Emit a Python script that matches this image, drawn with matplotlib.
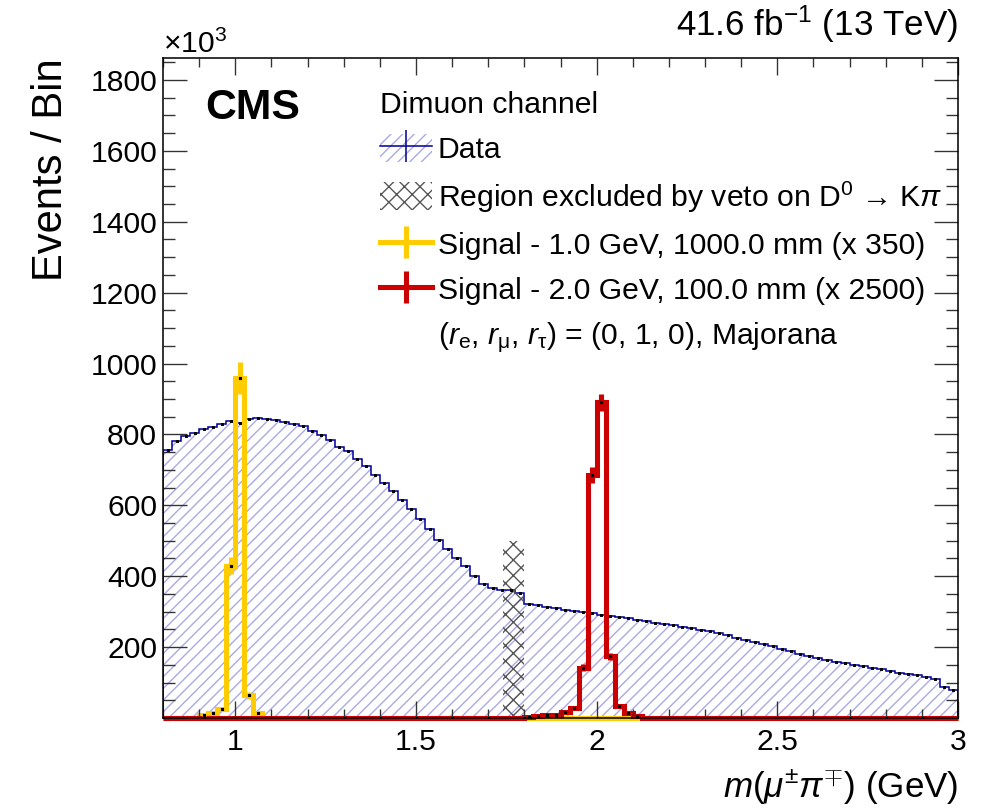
import numpy as np
import matplotlib
matplotlib.use('Agg')
import matplotlib.pyplot as plt
from matplotlib.patches import Patch
from matplotlib.lines import Line2D
from matplotlib.ticker import MultipleLocator, FuncFormatter

plt.rcParams['font.family'] = ['Liberation Sans', 'DejaVu Sans']
plt.rcParams['mathtext.fontset'] = 'custom'
plt.rcParams['mathtext.rm'] = 'Liberation Sans'
plt.rcParams['mathtext.it'] = 'Liberation Sans:italic'
plt.rcParams['mathtext.bf'] = 'Liberation Sans:bold'
plt.rcParams['hatch.linewidth'] = 0.7

# binning (GeV)
x_lo, x_hi, bin_w = 0.8, 3.0, 0.025

# data, x10^3 events per bin
data_vals = [
    757, 782, 795, 804, 814, 822, 830, 839,   # 0.800-0.975
    833, 844, 845, 844, 840, 836, 830, 823,   # 1.000-1.175
    811, 799, 783, 764, 752, 730, 710, 685,   # 1.200-1.375
    664, 641, 614, 590, 562, 533, 503, 478,   # 1.400-1.575
    452, 428, 400, 378, 366, 362, 360, 352,   # 1.600-1.775
    322, 318, 314, 310, 306, 302, 299, 295,   # 1.800-1.975
    291, 288, 285, 281, 277, 273, 269, 265,   # 2.000-2.175
    261, 258, 253, 249, 245, 240, 234, 227,   # 2.200-2.375
    221, 215, 208, 202, 196, 189, 181, 176,   # 2.400-2.575
    170, 165, 159, 155, 150, 146, 141, 137,   # 2.600-2.775
    132, 128, 124, 120, 116, 111, 87, 80,     # 2.800-2.975
]

# signal 1.0 GeV (x350), nonzero bins starting at sig1_start
sig1_start = 0.9
sig1_vals = [8, 15, 24, 430, 958, 64, 15]
sig1_errs = [2, 4, 5, 24, 45, 10, 4]

# signal 2.0 GeV (x2500)
sig2_start = 1.8
sig2_vals = [3, 5, 9, 9, 18, 28, 142, 685, 891, 174, 33, 14, 5]
sig2_errs = [1, 2, 3, 3, 4, 5, 10, 22, 24, 10, 5, 4, 2]

# D0 veto region
veto_lo, veto_hi, veto_h = 1.74, 1.80, 500

navy = '#000099'
hatch_col = '#a9a9e6'
yellow = '#ffcc00'
red = '#cc0000'
veto_col = '#555555'

n_bins = int(round((x_hi - x_lo) / bin_w))
edges = x_lo + bin_w * np.arange(n_bins + 1)
centers = 0.5 * (edges[:-1] + edges[1:])
data = np.array(data_vals, dtype=float)


def full_hist(start, vals):
    h = np.zeros(n_bins)
    i0 = int(round((start - x_lo) / bin_w))
    h[i0:i0 + len(vals)] = vals
    return h


sig1 = full_hist(sig1_start, sig1_vals)
sig2 = full_hist(sig2_start, sig2_vals)
sig1_e = full_hist(sig1_start, sig1_errs)
sig2_e = full_hist(sig2_start, sig2_errs)

fig = plt.figure(figsize=(981 / 140, 810 / 140), dpi=140)
ax = fig.add_axes([163 / 981, 1 - 718 / 810, 795 / 981, 660 / 810])

# data: hatched fill + navy outline
ax.stairs(data, edges, fill=True, facecolor='none', edgecolor=hatch_col,
          hatch='////', linewidth=0)
ax.stairs(data, edges, color=navy, linewidth=0.8)
ax.plot(centers, data, ls='none', marker='s', ms=0.5, color='k')

# veto region
ax.bar(veto_lo, veto_h, width=veto_hi - veto_lo, align='edge',
       facecolor='none', edgecolor=veto_col, hatch='xxx', linewidth=0)

# signals
for h, e, c in [(sig1, sig1_e, yellow), (sig2, sig2_e, red)]:
    ax.stairs(h, edges, color=c, linewidth=2.6, clip_on=False)
    nz = h > 0
    ax.errorbar(centers[nz], h[nz], yerr=e[nz], fmt='none', ecolor=c,
                elinewidth=2.6, capsize=0)
    ax.plot(centers[nz], h[nz], ls='none', marker='s', ms=0.6, color='k')

ax.set_xlim(x_lo, x_hi)
ax.set_ylim(0, 1862)

ax.xaxis.set_major_locator(MultipleLocator(0.5))
ax.xaxis.set_minor_locator(MultipleLocator(0.1))
ax.yaxis.set_major_locator(MultipleLocator(200))
ax.yaxis.set_minor_locator(MultipleLocator(50))
ax.xaxis.set_major_formatter(FuncFormatter(lambda v, p: f'{v:g}'))
ax.yaxis.set_major_formatter(FuncFormatter(lambda v, p: '' if v == 0 else f'{v:g}'))

ax.tick_params(which='both', direction='in', top=True, right=True,
               labelsize=15.5, width=0.7, color='#333333')
ax.tick_params(axis='x', which='major', length=8.7, pad=5)
ax.tick_params(axis='x', which='minor', length=4.4)
ax.tick_params(axis='y', which='major', length=12.3, pad=3)
ax.tick_params(axis='y', which='minor', length=6.2)
for s in ax.spines.values():
    s.set_linewidth(0.8)

ax.set_xlabel(r'$m(\mu^{\pm}\pi^{\mp})$ (GeV)', fontsize=18, loc='right',
              labelpad=6)
ax.set_ylabel('Events / Bin', fontsize=21.5, loc='top', labelpad=10)

ax.text(0.0, 1.008, r'$\times$10$^{3}$', transform=ax.transAxes,
        fontsize=15.5, ha='left', va='baseline')
ax.text(1.0, 1.02, r'41.6 fb$^{-1}$ (13 TeV)', transform=ax.transAxes,
        fontsize=18, ha='right', va='bottom')
ax.text(0.053, 0.955, 'CMS', transform=ax.transAxes, fontsize=22,
        fontweight='bold', ha='left', va='top')

# legend
h_data = (Patch(facecolor='none', edgecolor=hatch_col, hatch='////', lw=0),
          Line2D([], [], color=navy, lw=0.8, marker='|', ms=16, mew=0.8))
h_veto = Patch(facecolor='none', edgecolor=veto_col, hatch='xxx', lw=0)
h_s1 = Line2D([], [], color=yellow, lw=2.6, marker='|', ms=16, mew=2.6)
h_s2 = Line2D([], [], color=red, lw=2.6, marker='|', ms=16, mew=2.6)
h_txt = Line2D([], [], color='none')
labels = ['Data',
          'Region excluded by veto on D$^{0}$ \u2192 K$\\pi$',
          'Signal - 1.0 GeV, 1000.0 mm (x 350)',
          'Signal - 2.0 GeV, 100.0 mm (x 2500)',
          r'($r_{\mathrm{e}}$, $r_{\mathrm{\mu}}$, $r_{\mathrm{\tau}}$) = (0, 1, 0), Majorana']
leg = ax.legend([h_data, h_veto, h_s1, h_s2, h_txt], labels,
                title='Dimuon channel', title_fontsize=15.5, fontsize=15.5,
                alignment='left', frameon=False, loc='upper left',
                bbox_to_anchor=(0.247, 0.982), handlelength=1.7,
                handleheight=1.05, handletextpad=0.2, labelspacing=0.5,
                borderpad=0.2)

fig.savefig('out.png', dpi=140)
